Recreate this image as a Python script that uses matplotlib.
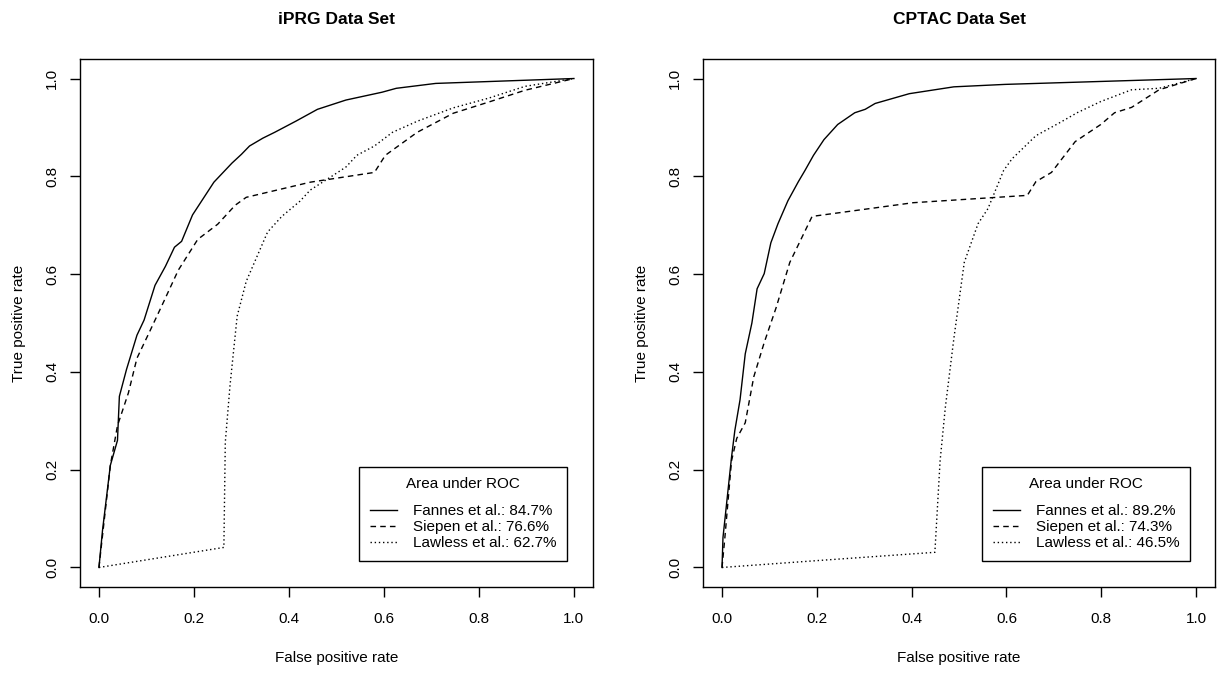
import matplotlib
matplotlib.use("Agg")
import matplotlib.pyplot as plt

plt.rcParams['font.family'] = ['Liberation Sans', 'DejaVu Sans']

# iPRG data set (false positive rate, true positive rate)
iprg_fannes_fpr = [0, 0.0075, 0.024, 0.039, 0.043, 0.058, 0.08, 0.095, 0.118, 0.14, 0.159, 0.174, 0.197,
                   0.242, 0.28, 0.3, 0.317, 0.345, 0.37, 0.415, 0.46, 0.52, 0.596, 0.626, 0.709, 1.0]
iprg_fannes_tpr = [0, 0.076, 0.209, 0.26, 0.35, 0.405, 0.475, 0.506, 0.577, 0.616, 0.655, 0.667, 0.721,
                   0.788, 0.827, 0.845, 0.862, 0.878, 0.89, 0.913, 0.937, 0.956, 0.972, 0.98, 0.99, 1.0]
iprg_siepen_fpr = [0, 0.024, 0.039, 0.062, 0.08, 0.107, 0.137, 0.167, 0.208, 0.25, 0.287, 0.31, 0.445,
                   0.58, 0.603, 0.67, 0.746, 0.821, 0.897, 1.0]
iprg_siepen_tpr = [0, 0.209, 0.29, 0.357, 0.428, 0.483, 0.545, 0.608, 0.671, 0.702, 0.741, 0.757, 0.788,
                   0.808, 0.843, 0.89, 0.929, 0.952, 0.976, 1.0]
iprg_lawless_fpr = [0, 0.263, 0.266, 0.276, 0.291, 0.31, 0.355, 0.385, 0.423, 0.445, 0.49, 0.52, 0.543,
                    0.58, 0.618, 0.671, 0.746, 0.821, 0.897, 1.0]
iprg_lawless_tpr = [0, 0.041, 0.256, 0.373, 0.514, 0.585, 0.686, 0.718, 0.749, 0.772, 0.8, 0.819, 0.843,
                    0.862, 0.89, 0.913, 0.94, 0.96, 0.984, 1.0]

# CPTAC data set
cptac_fannes_fpr = [0, 0.002, 0.02, 0.027, 0.038, 0.049, 0.063, 0.074, 0.089, 0.103, 0.118, 0.139, 0.161,
                    0.175, 0.193, 0.215, 0.244, 0.28, 0.302, 0.323, 0.395, 0.489, 0.597, 1.0]
cptac_fannes_tpr = [0, 0.061, 0.225, 0.28, 0.343, 0.437, 0.5, 0.57, 0.601, 0.664, 0.703, 0.75, 0.789,
                    0.812, 0.843, 0.875, 0.906, 0.93, 0.937, 0.949, 0.969, 0.983, 0.988, 1.0]
cptac_siepen_fpr = [0, 0.006, 0.02, 0.031, 0.049, 0.067, 0.089, 0.114, 0.143, 0.19, 0.403, 0.644, 0.662,
                    0.695, 0.745, 0.799, 0.828, 0.864, 0.922, 1.0]
cptac_siepen_tpr = [0, 0.061, 0.218, 0.264, 0.296, 0.39, 0.46, 0.531, 0.624, 0.718, 0.746, 0.761, 0.789,
                    0.808, 0.871, 0.906, 0.93, 0.941, 0.977, 1.0]
cptac_lawless_fpr = [0, 0.2, 0.449, 0.46, 0.471, 0.489, 0.511, 0.54, 0.561, 0.594, 0.612, 0.662, 0.713,
                     0.749, 0.799, 0.864, 0.922, 1.0]
cptac_lawless_tpr = [0, 0.014, 0.031, 0.218, 0.327, 0.468, 0.624, 0.703, 0.734, 0.812, 0.836, 0.883, 0.91,
                     0.93, 0.953, 0.977, 0.98, 1.0]

titles = ["iPRG Data Set", "CPTAC Data Set"]
auc_iprg = ["Fannes et al.: 84.7%", "Siepen et al.: 76.6%", "Lawless et al.: 62.7%"]
auc_cptac = ["Fannes et al.: 89.2%", "Siepen et al.: 74.3%", "Lawless et al.: 46.5%"]
ticks = [0.0, 0.2, 0.4, 0.6, 0.8, 1.0]

fig = plt.figure(figsize=(12.17, 6.77), dpi=100)
ax1 = fig.add_axes([0.0657, 0.1329, 0.4215, 0.780])
ax2 = fig.add_axes([0.5777, 0.1329, 0.4207, 0.780])

panels = [
    (ax1, titles[0], auc_iprg,
     [(iprg_fannes_fpr, iprg_fannes_tpr), (iprg_siepen_fpr, iprg_siepen_tpr), (iprg_lawless_fpr, iprg_lawless_tpr)],
     (0.949, 0.049)),
    (ax2, titles[1], auc_cptac,
     [(cptac_fannes_fpr, cptac_fannes_tpr), (cptac_siepen_fpr, cptac_siepen_tpr), (cptac_lawless_fpr, cptac_lawless_tpr)],
     (0.951, 0.049)),
]
styles = ['-', (0, (4, 3)), (0, (1, 2))]

for ax, title, labels, curves, anchor in panels:
    for (x, y), ls, lab in zip(curves, styles, labels):
        ax.plot(x, y, color='black', linestyle=ls, linewidth=1.0, label=lab)
    ax.set_xlim(-0.04, 1.04)
    ax.set_ylim(-0.04, 1.04)
    ax.set_xticks(ticks)
    ax.set_yticks(ticks)
    ax.set_xticklabels([f"{t:.1f}" for t in ticks])
    ax.set_yticklabels([f"{t:.1f}" for t in ticks], rotation=90, va='center')
    ax.tick_params(direction='out', length=7, width=1, labelsize=11)
    ax.tick_params(axis='x', pad=11)
    ax.tick_params(axis='y', pad=8)
    for s in ax.spines.values():
        s.set_linewidth(1.0)
    ax.set_title(title, fontsize=12.5, fontweight='bold', pad=25)
    ax.set_xlabel("False positive rate", fontsize=11)
    ax.set_ylabel("True positive rate", fontsize=11)
    ax.xaxis.set_label_coords(0.5, -0.122)
    ax.yaxis.set_label_coords(-0.105, 0.5)
    leg = ax.legend(title="Area under ROC", loc='lower right', bbox_to_anchor=anchor,
                    fontsize=11, title_fontsize=11, fancybox=False, framealpha=1,
                    edgecolor='black', handlelength=1.8, handletextpad=1.0,
                    borderpad=0.7, labelspacing=0.15, borderaxespad=0)
    leg.get_frame().set_linewidth(1.0)
    leg._legend_box.sep = 9

fig.savefig("out.png", dpi=100)
